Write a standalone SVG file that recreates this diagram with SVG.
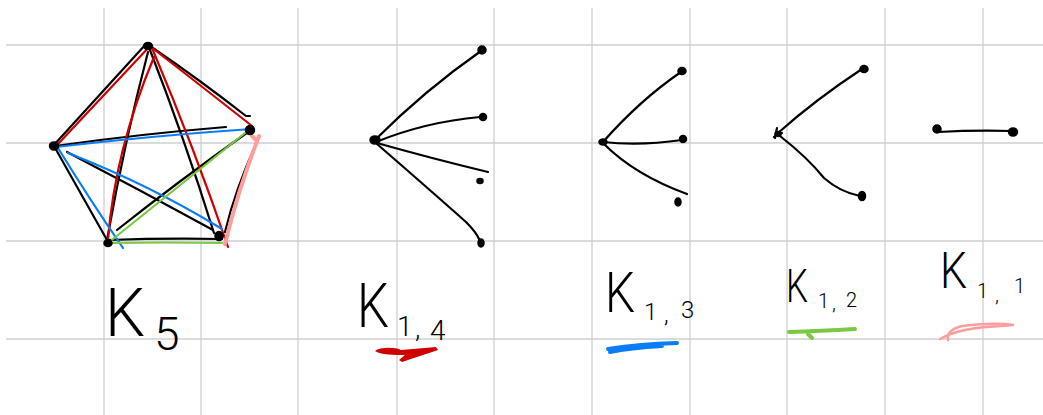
<svg xmlns="http://www.w3.org/2000/svg" width="1043" height="415" viewBox="0 0 1043 415">
<style>
.grid line{stroke:#cfcfcf;stroke-width:1.3}
.k{stroke:#000;stroke-width:2.2;fill:none;stroke-linecap:round;stroke-linejoin:round}
.r{stroke:#d00000;stroke-width:2.2;fill:none;stroke-linecap:round}
.b{stroke:#0a7cf5;stroke-width:2.2;fill:none;stroke-linecap:round}
.g{stroke:#7ac943;stroke-width:2.2;fill:none;stroke-linecap:round}
.p{stroke:#ff9c9c;stroke-width:4;fill:none;stroke-linecap:round}
.dot{fill:#000;stroke:#000;stroke-width:1.5}
text{font-family:Roboto,Inter,"Liberation Sans",Arial,sans-serif;font-weight:300;fill:#000}
</style>
<rect width="1043" height="415" fill="#fff"/>
<g class="grid">
<line x1="104" y1="8" x2="104" y2="415"/><line x1="201" y1="8" x2="201" y2="415"/>
<line x1="298" y1="8" x2="298" y2="415"/><line x1="397" y1="8" x2="397" y2="415"/>
<line x1="494" y1="8" x2="494" y2="415"/><line x1="592" y1="8" x2="592" y2="415"/>
<line x1="690" y1="8" x2="690" y2="415"/><line x1="787" y1="8" x2="787" y2="415"/>
<line x1="885" y1="8" x2="885" y2="415"/><line x1="983" y1="8" x2="983" y2="415"/>
<line x1="6" y1="45" x2="1043" y2="45"/><line x1="6" y1="143" x2="1043" y2="143"/>
<line x1="6" y1="241" x2="1043" y2="241"/><line x1="6" y1="339" x2="1043" y2="339"/>
</g>
<g id="connectors">
<path class="k" d="M146,44 L53,146"/>
<path class="k" d="M150,46 Q200,80 246,116 L250,116"/>
<path class="k" d="M148,52 Q125,140 107,240"/>
<path class="k" d="M150,50 Q185,140 214,233"/>
<path class="k" d="M55,146 Q140,134 226,127"/>
<path class="k" d="M67,152 Q140,190 213,230"/>
<path class="k" d="M54,146 L107,240"/>
<path class="k" d="M248,132 Q180,180 117,230"/>
<path class="k" d="M108,240 Q165,238 222,239"/>
<path class="k" d="M257,142 Q235,190 225,232"/>
<path class="r" d="M150,46 L58,144"/>
<path class="r" d="M151,47 Q200,85 252,126"/>
<path class="r" d="M154,57 Q115,150 108,240"/>
<path class="r" d="M152,48 Q195,150 228,247"/>
<path class="b" d="M56,147 Q150,136 251,129"/>
<path class="b" d="M68,153 Q150,185 222,229"/>
<path class="b" d="M58,148 Q90,200 123,248"/>
<path class="g" d="M250,129 Q180,185 108,243"/>
<path class="g" d="M110,243 Q165,242 222,243"/>
<path class="p" d="M259,136 Q238,190 225,244 M252,136 L256,140"/>
<path class="k" d="M375,140 Q425,90 481,51"/>
<path class="k" d="M376,142 Q425,122 480,117"/>
<path class="k" d="M377,143 Q430,158 488,172"/>
<path class="k" d="M377,144 Q430,190 466,222 Q476,232 479,239"/>
<path class="k" d="M603,142 Q640,100 681,72"/>
<path class="k" d="M603,142 Q640,146 682,140"/>
<path class="k" d="M604,144 Q635,175 687,194"/>
<path class="k" d="M778,133 Q815,100 862,69"/>
<path class="k" d="M780,136 Q808,158 824,178 Q840,192 860,196"/>
<path class="k" d="M775,138 L777,128 M774,137 L782,133"/>
<path class="k" d="M938,132 Q975,130 1012,131"/>
</g>
<g id="k5-top"><ellipse class="dot" cx="148" cy="46" rx="4.5" ry="3.5"/></g>
<g id="k5-left"><ellipse class="dot" cx="54" cy="146" rx="4.5" ry="4"/></g>
<g id="k5-right"><ellipse class="dot" cx="250" cy="130" rx="4.5" ry="4.5"/></g>
<g id="k5-bottomleft"><ellipse class="dot" cx="108" cy="243" rx="4" ry="3.5"/></g>
<g id="k5-bottomright"><ellipse class="dot" cx="219" cy="236" rx="4" ry="4.5"/></g>
<g id="k14-center"><ellipse class="dot" cx="375" cy="140" rx="5" ry="4"/></g>
<g id="k14-leaf1"><ellipse class="dot" cx="482" cy="50" rx="4" ry="4"/></g>
<g id="k14-leaf2"><ellipse class="dot" cx="483" cy="117" rx="3.5" ry="3.5"/></g>
<g id="k14-leaf3"><ellipse class="dot" cx="480" cy="181" rx="3" ry="2.5"/></g>
<g id="k14-leaf4"><ellipse class="dot" cx="481" cy="243" rx="3" ry="4"/></g>
<g id="k13-center"><ellipse class="dot" cx="603" cy="142" rx="4" ry="3"/></g>
<g id="k13-leaf1"><ellipse class="dot" cx="682" cy="71" rx="4" ry="3.5"/></g>
<g id="k13-leaf2"><ellipse class="dot" cx="683" cy="139" rx="3.5" ry="3.5"/></g>
<g id="k13-leaf3"><ellipse class="dot" cx="678" cy="202" rx="3" ry="4"/></g>
<g id="k12-center"><ellipse class="dot" cx="778" cy="134" rx="3" ry="2.5"/></g>
<g id="k12-leaf1"><ellipse class="dot" cx="864" cy="69" rx="4" ry="3.5"/></g>
<g id="k12-leaf2"><ellipse class="dot" cx="862" cy="196" rx="3.5" ry="4.5"/></g>
<g id="k11-a"><ellipse class="dot" cx="937" cy="129" rx="4" ry="4"/></g>
<g id="k11-b"><ellipse class="dot" cx="1013" cy="132" rx="4.5" ry="4"/></g>
<g id="labels">
<text x="105" y="336" font-size="66" textLength="40" lengthAdjust="spacingAndGlyphs">K</text>
<text x="154" y="350" font-size="46">5</text>
<text x="357" y="327" font-size="62" textLength="32" lengthAdjust="spacingAndGlyphs">K</text>
<text font-size="28"><tspan x="397" y="336">1</tspan><tspan x="415" y="338">,</tspan><tspan x="430" y="340">4</tspan></text>
<text x="605" y="312" font-size="56" textLength="30" lengthAdjust="spacingAndGlyphs">K</text>
<text font-size="24"><tspan x="644" y="320">1</tspan><tspan x="664" y="322">,</tspan><tspan x="681" y="318">3</tspan></text>
<text x="786" y="302" font-size="47" textLength="22" lengthAdjust="spacingAndGlyphs">K</text>
<text font-size="20"><tspan x="818" y="308">1</tspan><tspan x="832" y="310">,</tspan><tspan x="846" y="307">2</tspan></text>
<text x="940" y="288" font-size="50" textLength="27" lengthAdjust="spacingAndGlyphs">K</text>
<text font-size="20"><tspan x="977" y="298">1</tspan><tspan x="995" y="302">,</tspan><tspan x="1014" y="293">1</tspan></text>
<path fill="#d00000" d="M375,351 C380,347 395,347 401,350 L436,347 L438,350 L402,362 L399,360 L405,355 C395,355 380,355 375,351 Z"/>
<path fill="none" stroke="#0a7cf5" stroke-width="4" stroke-linecap="round" d="M608,349 Q640,344 677,343 M610,352 Q630,348 662,346"/>
<path fill="none" stroke="#7ac943" stroke-width="4" stroke-linecap="round" d="M789,332 Q820,331 855,329 M808,334 L812,338"/>
<path fill="none" stroke="#ff9c9c" stroke-width="2.5" stroke-linecap="round" d="M940,339 Q958,328 1000,326 L1014,325 Q995,322 962,326 Q946,330 948,340"/>
</g>
</svg>
